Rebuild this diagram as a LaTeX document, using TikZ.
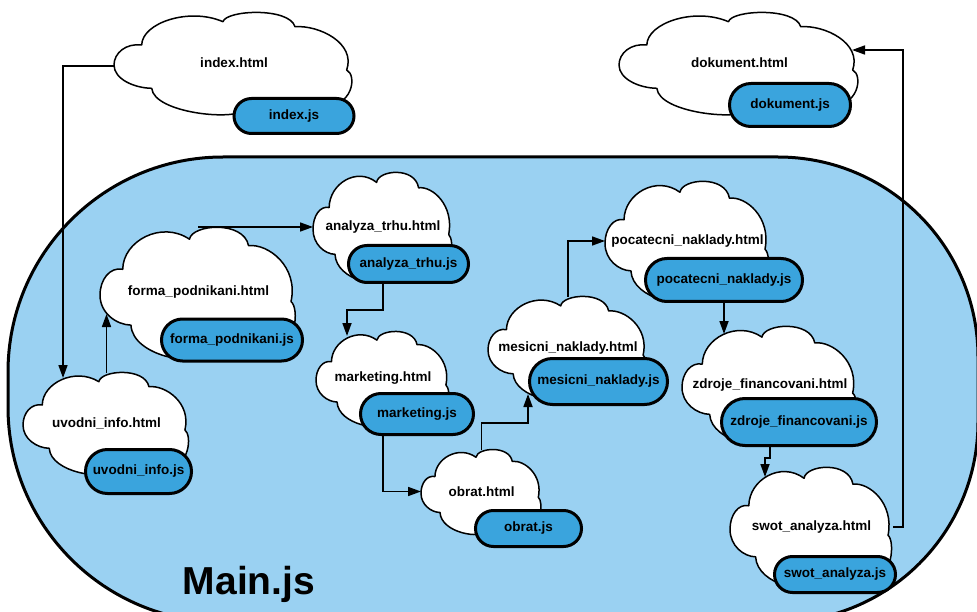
\documentclass[tikz,border=0pt]{standalone}
\usepackage{fontspec}
\setmainfont{Liberation Sans}
\usetikzlibrary{arrows.meta,calc}

\definecolor{mainfill}{RGB}{154,209,242}
\definecolor{jsfill}{RGB}{58,164,221}

\pgfdeclarelayer{back}
\pgfdeclarelayer{links}
\pgfsetlayers{back,links,main}

% cloud outline in a unit box (u to the right, v downwards)
\newcommand{\cloudpath}{(0.1154,0.32)
  .. controls (0.1167,0.10) and (0.3125,-0.06) .. (0.4542,0.087)
  .. controls (0.4667,-0.03) and (0.7292,-0.06) .. (0.7542,0.137)
  .. controls (0.8542,0.12) and (1.0083,0.30) .. (0.9696,0.57)
  .. controls (1.0125,0.62) and (1.0,0.95) .. (0.8542,0.95)
  .. controls (0.8125,1.03) and (0.5833,1.03) .. (0.5417,0.97)
  .. controls (0.5,1.08) and (0.1667,1.0) .. (0.1571,0.753)
  .. controls (0.0833,0.75) and (0,0.66) .. (0,0.52)
  .. controls (0,0.40) and (0.05,0.30) .. cycle}

% html page: name, left, top, right, bottom, label
\newcommand{\webpage}[6]{%
  \pgfmathsetmacro{\cldw}{#4-#2}%
  \pgfmathsetmacro{\cldh}{#5-#3}%
  \draw[pageoutline, shift={(#2,#3)}, x=\cldw pt, y=-\cldh pt] \cloudpath;
  \node[pagelabel, minimum width=\cldw pt, minimum height=\cldh pt]
    (#1) at ({(#2+#4)/2},{(#3+#5)/2}) {#6};
}

\tikzset{
  mainarea/.style={draw=black, line width=3pt, fill=mainfill},
  pageoutline/.style={draw=black, line width=1.5pt, fill=white, line join=round},
  pagelabel/.style={inner sep=0pt, outer sep=0pt, text=black,
    font=\bfseries\fontsize{13.5}{16}\selectfont},
  jsbox/.style 2 args={draw=black, line width=3pt, fill=jsfill, inner sep=0pt,
    minimum width=#1, minimum height=#2, rounded corners={#2/2}, text=black,
    font=\bfseries\fontsize{13.5}{16}\selectfont},
  link/.style={draw=black, line width=1.7pt,
    -{Triangle[length=13pt,width=9pt]}},
  mainlabel/.style={inner sep=0pt, text=black,
    font=\bfseries\fontsize{39}{44}\selectfont},
}

\begin{document}
\begin{tikzpicture}[x=1pt, y=-1pt]
\useasboundingbox (0,0) rectangle (977,612);

% the Main.js area
\begin{pgfonlayer}{back}
  \begin{scope}
    \clip (0,0) rectangle (977,612);
    \draw[mainarea] (223,157) -- (778,157)
      .. controls (888.5,157) and (978,246.5) .. (978,357) -- (978,422)
      .. controls (978,532.5) and (888.5,622) .. (778,622) -- (223,622)
      .. controls (104.3,622) and (8,525.7) .. (8,407) -- (8,372)
      .. controls (8,253.3) and (104.3,157) .. (223,157) -- cycle;
  \end{scope}
\end{pgfonlayer}

\node[mainlabel, anchor=base] (mainjs) at (249,594) {Main.js};

% html pages
\webpage{index}{114}{13}{354}{113}{index.html}
\webpage{dokument}{619}{13}{860}{113}{dokument.html}
\webpage{forma}{100}{228}{297}{357}{forma\_podnikani.html}
\webpage{uvodni}{23}{373}{190}{473}{uvodni\_info.html}
\webpage{analyza}{313}{173}{453}{281}{analyza\_trhu.html}
\webpage{marketing}{316}{332}{450}{425}{marketing.html}
\webpage{obrat}{421}{450}{542}{533}{obrat.html}
\webpage{mesicni}{488}{297}{648}{399}{mesicni\_naklady.html}
\webpage{pocatecni}{605}{182}{770}{300}{pocatecni\_naklady.html}
\webpage{zdroje}{682}{327}{858}{443}{zdroje\_financovani.html}
\webpage{swot}{730}{468}{893}{586}{swot\_analyza.html}

% scripts
\node[jsbox={120pt}{35pt}] (indexjs) at (294,116) {index.js};
\node[jsbox={121pt}{43pt}] (dokumentjs) at (790,105) {dokument.js};
\node[jsbox={141pt}{42pt}] (formajs) at (232,340) {forma\_podnikani.js};
\node[jsbox={106pt}{44pt}] (uvodnijs) at (138.5,471.5) {uvodni\_info.js};
\node[jsbox={120pt}{37pt}] (analyzajs) at (408.5,264) {analyza\_trhu.js};
\node[jsbox={113pt}{41pt}] (marketingjs) at (417,414) {marketing.js};
\node[jsbox={106pt}{36pt}] (obratjs) at (528.5,528.5) {obrat.js};
\node[jsbox={138pt}{46pt}] (mesicnijs) at (598.5,381.5) {mesicni\_naklady.js};
\node[jsbox={157pt}{43pt}] (pocatecnijs) at (724,280) {pocatecni\_naklady.js};
\node[jsbox={155pt}{47pt}] (zdrojejs) at (799,422) {zdroje\_financovani.js};
\node[jsbox={121pt}{36pt}] (swotjs) at (835,574.5) {swot\_analyza.js};

% entry and exit points on the page outlines
\coordinate (index-out) at ([yshift=-3pt]index.west);
\coordinate (uvodni-in) at ([xshift=40pt, yshift=-5pt]uvodni.north west);
\coordinate (forma-in) at ([xshift=7pt, yshift=-86pt]forma.north west);
\coordinate (marketing-in) at ([xshift=31pt, yshift=-4pt]marketing.north west);
\coordinate (mesicni-in) at ([xshift=40pt, yshift=5pt]mesicni.south west);
\coordinate (zdroje-in) at ([xshift=42pt, yshift=-7pt]zdroje.north west);
\coordinate (swot-in) at ([xshift=35pt, yshift=-9pt]swot.north west);
\coordinate (dokument-in) at ([xshift=-8pt, yshift=-37pt]dokument.north east);

% navigation between pages
\begin{pgfonlayer}{links}
  \draw[link] (index-out) -| (uvodni-in);
  \draw[link] (uvodni) -- (uvodni |- forma-in);
  \draw[link] (forma) |- (analyza);
  \draw[link] (analyza) |- ([yshift=26pt]marketing-in) -- (marketing-in);
  \draw[link] (marketing) |- (obrat);
  \draw[link] (obrat) |- ([yshift=-29pt]mesicni-in) -- (mesicni-in);
  \draw[link] (mesicni) |- (pocatecni);
  \draw[link] (pocatecnijs) -- (pocatecnijs |- zdroje-in);
  \draw[link] (zdroje) |- ([yshift=19pt]swot-in) -- (swot-in);
  \draw[link] (swot) -| ([xshift=51pt]dokument-in) -- (dokument-in);
\end{pgfonlayer}
\end{tikzpicture}
\end{document}
